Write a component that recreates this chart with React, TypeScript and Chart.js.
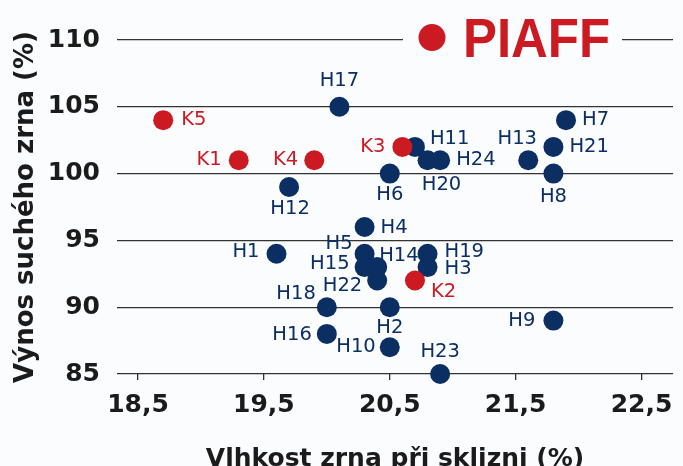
import React, { useEffect, useRef } from 'react';
import { Chart, registerables } from 'chart.js';
Chart.register(...registerables);

// ---- data ----
const hybridNames = ['H1','H2','H3','H4','H5','H6','H7','H8','H9','H10','H11','H12','H13','H14','H15','H16','H17','H18','H19','H20','H21','H22','H23','H24'];
const hybridMoisture = [19.6, 20.5, 20.8, 20.3, 20.3, 20.5, 21.9, 21.8, 21.8, 20.5, 20.7, 19.7, 21.6, 20.4, 20.3, 20.0, 20.1, 20.0, 20.8, 20.8, 21.8, 20.4, 20.9, 20.9];
const hybridYield = [94, 90, 93, 96, 94, 100, 104, 100, 89, 87, 102, 99, 101, 93, 93, 88, 105, 90, 94, 101, 102, 92, 85, 101];

const checkNames = ['K1','K2','K3','K4','K5'];
const checkMoisture = [19.3, 20.7, 20.6, 19.9, 18.7];
const checkYield = [101, 92, 102, 101, 104];

const xTicks = [18.5, 19.5, 20.5, 21.5, 22.5];
const yTicks = [85, 90, 95, 100, 105, 110];

const xTitle = 'Vlhkost zrna při sklizni (%)';
const yTitle = 'Výnos suchého zrna (%)';
const logoText = 'PIAFF';

// ---- label layout (style, not data): [dx, dy, align] ----
const hybridLabelPos: [number, number, CanvasTextAlign][] = [
  [-17, -2, 'right'], // H1
  [0, 21, 'center'],  // H2
  [17, 2, 'left'],    // H3
  [16, 1, 'left'],    // H4
  [-12, -10, 'right'],// H5
  [0, 21, 'center'],  // H6
  [16, 0, 'left'],    // H7
  [0, 23, 'center'],  // H8
  [-18, 0, 'right'],  // H9
  [-14, 0, 'right'],  // H10
  [15, -8, 'left'],   // H11
  [1, 22, 'center'],  // H12
  [-11, -21, 'center'], // H13
  [2, -11, 'left'],   // H14
  [-15, -3, 'right'], // H15
  [-15, 1, 'right'],  // H16
  [0, -26, 'center'], // H17
  [-11, -13, 'right'],// H18
  [17, -2, 'left'],   // H19
  [14, 25, 'center'], // H20
  [16, 0, 'left'],    // H21
  [-15, 5, 'right'],  // H22
  [0, -22, 'center'], // H23
  [16, 0, 'left'],    // H24
];
const checkLabelPos: [number, number, CanvasTextAlign][] = [
  [-17, 0, 'right'], // K1
  [16, 11, 'left'],  // K2
  [-17, 0, 'right'], // K3
  [-16, 0, 'right'], // K4
  [18, 0, 'left'],   // K5
];

const RED = '#CC1A22';
const NAVY = '#0B2E63';
const BG = '#FAFCFE';
const GRID = '#333333';
const TEXT = '#1b1b1b';
const HEAVY = '"DejaVu Sans"';

const bgPlugin = {
  id: 'bg',
  beforeDraw(chart: any) {
    const { ctx, width, height } = chart;
    ctx.save();
    ctx.fillStyle = BG;
    ctx.fillRect(0, 0, width, height);
    ctx.restore();
  },
};

const labelPlugin = {
  id: 'pointLabels',
  afterDatasetsDraw(chart: any) {
    const { ctx } = chart;
    ctx.save();
    ctx.font = '19.5px "DejaVu Sans"';
    ctx.textBaseline = 'middle';
    chart.data.datasets.forEach((ds: any, di: number) => {
      const meta = chart.getDatasetMeta(di);
      meta.data.forEach((el: any, i: number) => {
        const [dx, dy, align] = ds.labelPos[i];
        ctx.fillStyle = ds.labelColor;
        ctx.textAlign = align;
        ctx.fillText(ds.names[i], el.x + dx, el.y + dy);
      });
    });
    ctx.restore();
  },
};

const titlePlugin = {
  id: 'axisTitles',
  afterDraw(chart: any) {
    const { ctx, chartArea } = chart;
    ctx.save();
    ctx.fillStyle = TEXT;
    ctx.textAlign = 'center';
    ctx.textBaseline = 'alphabetic';
    ctx.font = `bold 25px ${HEAVY}`;
    ctx.fillText(xTitle, (chartArea.left + chartArea.right) / 2, 465.5);
    ctx.translate(33, (chartArea.top + chartArea.bottom) / 2);
    ctx.rotate(-Math.PI / 2);
    ctx.font = `bold 26px ${HEAVY}`;
    ctx.fillText(yTitle, 0, 0);
    ctx.restore();
  },
};

const logoPlugin = {
  id: 'logo',
  afterDraw(chart: any) {
    const { ctx } = chart;
    ctx.save();
    ctx.fillStyle = BG;
    ctx.fillRect(403, 30, 219, 20);
    ctx.fillStyle = RED;
    ctx.beginPath();
    ctx.arc(432, 37.5, 13.5, 0, Math.PI * 2);
    ctx.fill();
    ctx.font = 'bold 56px "Liberation Sans"';
    ctx.textBaseline = 'alphabetic';
    ctx.textAlign = 'left';
    const w = ctx.measureText(logoText).width;
    const target = 147;
    ctx.translate(463, 57);
    ctx.scale(target / w, 1);
    ctx.fillText(logoText, 0, 0);
    ctx.restore();
  },
};

export default function App() {
  const ref = useRef<HTMLCanvasElement | null>(null);
  useEffect(() => {
    if (!ref.current) return;
    const chart = new Chart(ref.current, {
      type: 'scatter',
      data: {
        datasets: [
          {
            label: 'K',
            data: checkMoisture.map((x, i) => ({ x, y: checkYield[i] })),
            backgroundColor: RED,
            borderWidth: 0,
            pointRadius: 10,
            pointHoverRadius: 10,
            names: checkNames,
            labelPos: checkLabelPos,
            labelColor: RED,
          } as any,
          {
            label: 'H',
            data: hybridMoisture.map((x, i) => ({ x, y: hybridYield[i] })),
            backgroundColor: NAVY,
            borderWidth: 0,
            pointRadius: 10,
            pointHoverRadius: 10,
            names: hybridNames,
            labelPos: hybridLabelPos,
            labelColor: NAVY,
          } as any,
        ],
      },
      options: {
        animation: false,
        responsive: false,
        clip: false as any,
        layout: { padding: { top: 40, right: 2, left: 0, bottom: 0 } },
        plugins: { legend: { display: false }, tooltip: { enabled: false } },
        scales: {
          x: {
            type: 'linear',
            min: 18.333,
            max: 22.75,
            afterBuildTicks: (s: any) => { s.ticks = xTicks.map((v) => ({ value: v })); },
            afterFit: (s: any) => { s.height = 92; },
            grid: { display: true, drawOnChartArea: false, drawTicks: true, tickLength: 6, color: GRID, lineWidth: 1.3 },
            border: { display: false },
            ticks: {
              padding: 10,
              color: TEXT,
              font: { family: 'DejaVu Sans', size: 25, weight: 'bold' },
              callback: (v: any) => Number(v).toFixed(1).replace('.', ','),
              maxRotation: 0,
              autoSkip: false,
            },
            title: { display: false },
          },
          y: {
            type: 'linear',
            min: 85,
            max: 110,
            afterBuildTicks: (s: any) => { s.ticks = yTicks.map((v) => ({ value: v })); },
            afterFit: (s: any) => { s.width = 117; },
            grid: { display: true, drawTicks: false, color: GRID, lineWidth: 1.3 },
            border: { display: false },
            ticks: {
              padding: 17,
              color: TEXT,
              font: { family: 'DejaVu Sans', size: 25, weight: 'bold' },
            },
            title: { display: false },
          },
        },
      },
      plugins: [bgPlugin, labelPlugin, titlePlugin, logoPlugin],
    });
    return () => chart.destroy();
  }, []);
  return (
    <div style={{ position: 'fixed', left: 0, top: 0, width: 683, height: 466, background: BG }}>
      <canvas ref={ref} width={683} height={466} style={{ display: 'block' }} />
    </div>
  );
}
